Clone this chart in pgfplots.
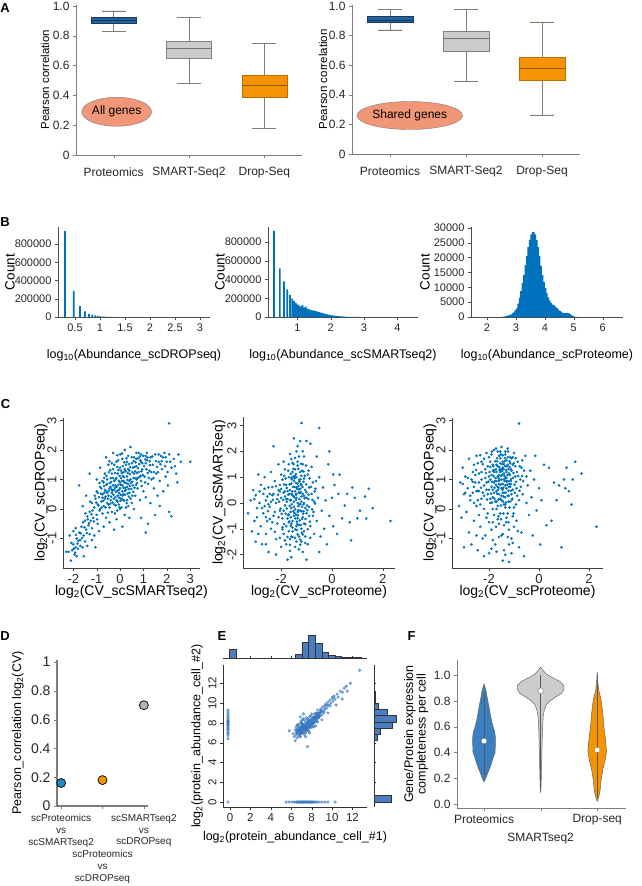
\documentclass[border=0pt]{standalone}
\usepackage{fontspec}
\setmainfont{Liberation Sans}
\usepackage{pgfplots}
\pgfplotsset{compat=1.18}
\usepgfplotslibrary{statistics}
\usetikzlibrary{shapes.geometric}

\definecolor{mblue}{RGB}{0,114,189}
\definecolor{pblue}{RGB}{34,98,158}
\definecolor{boxgray}{RGB}{204,204,204}
\definecolor{orng}{RGB}{245,148,0}
\definecolor{salmon}{RGB}{241,150,118}
\definecolor{axgray}{RGB}{125,125,125}
\definecolor{eblue}{RGB}{50,115,190}
\definecolor{hblue}{RGB}{76,125,190}
\definecolor{vblue}{RGB}{58,127,193}

\newcommand\fs[1]{\fontsize{#1}{#1}\selectfont}

\pgfplotsset{
  every axis/.append style={
    scale only axis, anchor=south west,
    axis lines*=left,
    axis line style={axgray},
    tick style={axgray},
    tick align=outside, major tick length=3pt,
    /pgf/number format/assume math mode=true,
    label style={font=\fs{12.5}},
    tick label style={font=\fs{12}, text=black!85},
  },
  ylab/.style={ylabel style={at={(axis description cs:#1,0.5)}, anchor=center}},
  xlab/.style={xlabel style={at={(axis description cs:0.5,#1)}, anchor=center}},
  bigcount/.style={scaled y ticks=false,
    yticklabel style={/pgf/number format/fixed, /pgf/number format/1000 sep={}}},
  scat/.style={only marks, mark=*, mark size=1.1pt, color=mblue},
  boxA/.style={
    xmin=0.5, xmax=3.5, ymin=0, ymax=1.01,
    xtick={1,2,3}, xticklabels={Proteomics,SMART-Seq2,Drop-Seq},
    xticklabel style={yshift=-6pt},
    ytick={0,0.2,0.4,0.6,0.8,1}, yticklabels={0,0.2,0.4,0.6,0.8,1.0},
    ylabel={Pearson correlation}, label style={font=\fs{11.5}},
    boxplot/draw direction=y,
    boxplot/every whisker/.style={draw=axgray},
  },
}

\begin{document}
\begin{tikzpicture}
\path[use as bounding box] (0,0) rectangle (641pt,-886pt);

% panel letters
\node[font=\bfseries\fs{13}] at (5pt,-8pt) {A};
\node[font=\bfseries\fs{13}] at (5pt,-222pt) {B};
\node[font=\bfseries\fs{13}] at (5.5pt,-404pt) {C};
\node[font=\bfseries\fs{13}] at (5pt,-636pt) {D};
\node[font=\bfseries\fs{13}] at (222pt,-636pt) {E};
\node[font=\bfseries\fs{13}] at (411.5pt,-636pt) {F};

% ---------------- A, all genes
\begin{axis}[at={(76pt,-155pt)}, width=226pt, height=150.5pt, boxA, ylab=-0.137]
\addplot[fill=pblue, draw=pblue!60!black, boxplot/every median/.style={draw=pblue!60!black},
  boxplot prepared={draw position=1, lower whisker=0.83, lower quartile=0.884,
  median=0.905, upper quartile=0.924, upper whisker=0.967, box extend=0.6, whisker extend=0.32}]
  coordinates {};
\addplot[fill=boxgray, draw=black!50, boxplot/every median/.style={draw=black!55},
  boxplot prepared={draw position=2, lower whisker=0.48, lower quartile=0.65,
  median=0.717, upper quartile=0.761, upper whisker=0.926, box extend=0.6, whisker extend=0.32}]
  coordinates {};
\addplot[fill=orng, draw=orng!75!black, boxplot/every median/.style={draw=orng!60!black},
  boxplot prepared={draw position=3, lower whisker=0.179, lower quartile=0.39,
  median=0.469, upper quartile=0.533, upper whisker=0.75, box extend=0.6, whisker extend=0.32}]
  coordinates {};
\node[ellipse, fill=salmon, draw=axgray, minimum width=68pt, minimum height=29pt,
  inner sep=0pt, font=\fs{12}] at (axis cs:1.04,0.29) {All genes};
\end{axis}

% ---------------- A, shared genes
\begin{axis}[at={(352pt,-154pt)}, width=228pt, height=149.5pt, boxA, ylab=-0.127]
\addplot[fill=pblue, draw=pblue!60!black, boxplot/every median/.style={draw=pblue!60!black},
  boxplot prepared={draw position=1, lower whisker=0.838, lower quartile=0.89,
  median=0.907, upper quartile=0.928, upper whisker=0.975, box extend=0.6, whisker extend=0.32}]
  coordinates {};
\addplot[fill=boxgray, draw=black!50, boxplot/every median/.style={draw=black!55},
  boxplot prepared={draw position=2, lower whisker=0.494, lower quartile=0.697,
  median=0.784, upper quartile=0.829, upper whisker=0.975, box extend=0.6, whisker extend=0.32}]
  coordinates {};
\addplot[fill=orng, draw=orng!75!black, boxplot/every median/.style={draw=orng!60!black},
  boxplot prepared={draw position=3, lower whisker=0.265, lower quartile=0.499,
  median=0.582, upper quartile=0.654, upper whisker=0.892, box extend=0.6, whisker extend=0.32}]
  coordinates {};
\node[ellipse, fill=salmon, draw=axgray, minimum width=89pt, minimum height=28pt,
  inner sep=0pt, font=\fs{12}] at (axis cs:1.26,0.26) {Shared genes};
\end{axis}

% ---------------- B, DROPseq abundance
\begin{axis}[at={(58pt,-317pt)}, width=152pt, height=90pt, bigcount,
  xmin=0.16, xmax=3.2, ymin=0, ymax=986000,
  xtick={0.5,1,1.5,2,2.5,3}, xticklabels={0.5,1,1.5,2,2.5,3},
  ytick={0,200000,400000,600000,800000},
  tick label style={font=\fs{11}},
  ylabel={Count}, ylab=-0.316, ylabel style={font=\fs{13.5}},
  xlabel={log\textsubscript{10}(Abundance\_scDROPseq)}, xlab=-0.42,
  axis line style={black!70}, tick style={black!70},
]
\addplot[ybar, bar width=0.035, fill=mblue, draw=none] coordinates {
  (0.301,942000) (0.477,285000) (0.602,120000) (0.699,62000) (0.778,35000)
  (0.845,25000) (0.903,18000) (0.954,12000) (1.0,8000) (1.041,5000)
  (1.079,3000) (1.114,2000) (1.146,1500) (1.176,1000) (1.204,700) (1.23,500) (1.255,300)};
\end{axis}

% ---------------- B, SMARTseq2 abundance
\begin{axis}[at={(268pt,-317pt)}, width=150pt, height=90pt, bigcount,
  xmin=0.12, xmax=4.62, ymin=0, ymax=960000,
  xtick={1,2,3,4}, ytick={0,200000,400000,600000,800000},
  tick label style={font=\fs{11}},
  ylabel={Count}, ylab=-0.32, ylabel style={font=\fs{13.5}},
  xlabel={log\textsubscript{10}(Abundance\_scSMARTseq2)}, xlab=-0.42,
  axis line style={black!70}, tick style={black!70},
]
\addplot[ybar, bar width=0.05, fill=mblue, draw=none] coordinates {
  (0.301,920000) (0.477,520000) (0.602,380000) (0.699,295000) (0.778,235000)
  (0.845,195000) (0.903,170000)};
\addplot[ybar interval, fill=mblue, draw=none] coordinates {
  (0.93,150000) (0.98,135000) (1.03,122000) (1.08,112000) (1.13,128000) (1.18,104000)
  (1.23,110000) (1.28,90000) (1.33,82000) (1.38,76000) (1.43,71000) (1.48,67000)
  (1.53,62000) (1.58,57000) (1.63,52000) (1.68,47000) (1.73,42000) (1.78,37000)
  (1.83,32000) (1.88,27000) (1.93,23000) (1.98,20000) (2.03,17000) (2.08,14000)
  (2.13,12000) (2.18,10000) (2.23,8500) (2.28,7000) (2.33,5500) (2.38,4500)
  (2.43,3500) (2.48,2500) (2.53,1800) (2.58,1200) (2.63,800) (2.68,500)
  (2.73,300) (2.78,200) (2.83,100) (2.88,0)};
\end{axis}

% ---------------- B, proteome abundance
\begin{axis}[at={(471pt,-317pt)}, width=152pt, height=90pt, bigcount,
  xmin=1.45, xmax=6.7, ymin=0, ymax=30300,
  xtick={2,3,4,5,6}, ytick={0,5000,10000,15000,20000,25000,30000},
  tick label style={font=\fs{11}},
  ylabel={Count}, ylab=-0.303, ylabel style={font=\fs{13.5}},
  xlabel={log\textsubscript{10}(Abundance\_scProteome)}, xlab=-0.42,
  axis line style={black!70}, tick style={black!70},
]
\addplot[ybar interval, fill=mblue, draw=none] coordinates {
  (2.50,50) (2.55,100) (2.60,200) (2.65,300) (2.70,450) (2.75,600) (2.80,800)
  (2.85,1200) (2.90,1600) (2.95,2200) (3.00,2900) (3.05,4500) (3.10,6500)
  (3.15,8700) (3.20,11500) (3.25,14200) (3.30,17500) (3.35,20500) (3.40,23500)
  (3.45,26000) (3.50,27800) (3.55,28700) (3.60,28600) (3.65,27800) (3.70,26000)
  (3.75,23500) (3.80,20500) (3.85,17200) (3.90,14200) (3.95,11800) (4.00,9700)
  (4.05,8000) (4.10,6600) (4.15,5500) (4.20,4700) (4.25,4200) (4.30,3900)
  (4.35,3500) (4.40,3000) (4.45,2500) (4.50,2100) (4.55,1700) (4.60,1400)
  (4.65,1300) (4.70,1350) (4.75,1400) (4.80,1300) (4.85,1000) (4.90,600)
  (4.95,300) (5.00,150) (5.05,80) (5.10,40) (5.15,20) (5.20,0)};
\end{axis}

% ---------------- C, SMART vs DROP
\begin{axis}[at={(63pt,-568pt)}, width=137pt, height=150.5pt,
  xmin=-2.44, xmax=3.42, ymin=-2, ymax=3.1,
  xtick={-2,-1,0,1,2,3}, ytick={-1,0,1,2,3},
  tick label style={font=\fs{13}}, yticklabel style={rotate=90, anchor=south},
  label style={font=\fs{14}}, axis line style={black!75}, tick style={black!75},
  ylabel={log\textsubscript{2}(CV\_scDROPseq)}, ylab=-0.16,
  xlabel={log\textsubscript{2}(CV\_scSMARTseq2)}, xlab=-0.16,
]
\addplot[scat] coordinates {
(-2.3,-1.45) (-2.2,-1.45) (-2.1,-1.75) (-2.05,-1.4) (-2.0,-1.2) (-1.95,-1.55) (-1.9,-1.3)
(-1.85,-1.0) (-1.8,-1.35) (-1.75,-0.8) (-1.7,-1.25) (-1.7,-1.05) (-1.65,-0.6) (-1.6,-1.3)
(-1.55,-0.9) (-1.5,-0.4) (-1.5,-1.1) (-1.45,-0.7) (-1.4,-0.25) (-1.4,-1.25) (-1.35,-0.55)
(-1.3,-0.85) (-1.3,-0.1) (-1.25,-0.4) (-1.2,0.2) (-1.2,-0.65) (-1.15,-0.3) (-1.1,0.05)
(-1.1,-0.9) (-1.05,0.35) (-1.0,-0.2) (-1.0,0.6) (-0.95,-0.5) (-0.95,0.15) (-1.9,-0.65)
(-2.15,-0.9) (-1.6,0.1) (-1.75,0.8) (-1.45,0.45) (-1.3,1.2) (-1.55,-1.6) (-1.2,-1.05)
(-0.9,-0.75) (-1.05,-1.3) (-1.85,-1.6) (-2.0,-0.75)
(-0.9,0.4) (-0.85,0.0) (-0.8,0.7) (-0.8,0.25) (-0.75,-0.15) (-0.75,0.5) (-0.7,0.9)
(-0.7,0.1) (-0.65,0.35) (-0.65,1.2) (-0.6,0.6) (-0.6,-0.3) (-0.55,0.2) (-0.55,0.85)
(-0.5,0.45) (-0.5,1.5) (-0.45,0.05) (-0.45,0.7) (-0.4,1.05) (-0.4,0.3) (-0.35,0.55)
(-0.35,-0.1) (-0.3,0.8) (-0.3,1.35) (-0.25,0.15) (-0.25,0.65) (-0.2,1.0) (-0.2,0.4)
(-0.15,1.6) (-0.15,0.75) (-0.1,0.25) (-0.1,1.2) (-0.05,0.55) (-0.05,0.95) (0.0,0.0)
(0.0,0.7) (0.0,1.4) (0.05,0.35) (0.05,1.05) (0.1,0.8) (0.1,1.7) (0.15,0.5) (0.15,1.25)
(0.2,0.9) (0.2,-0.2) (0.25,1.5) (0.25,0.65) (0.3,1.1) (0.3,0.3) (0.35,0.85) (0.35,1.8)
(0.4,1.3) (0.4,0.55) (0.45,1.0) (0.5,1.55) (0.5,0.2) (0.55,0.8) (0.6,1.2) (0.6,1.75)
(0.65,0.45) (0.7,1.0) (0.7,1.45) (0.75,0.7) (0.8,1.9) (0.8,1.25) (0.85,0.3) (0.9,1.6)
(0.9,0.95) (0.95,1.35) (1.0,0.6) (1.0,1.8) (-0.6,1.75) (-0.3,1.9) (0.0,1.85) (0.2,2.0)
(0.45,2.1) (-0.85,1.4) (-1.0,1.0) (-0.45,-0.45) (-0.15,-0.35) (0.1,-0.6) (0.4,-0.3)
(-0.7,-0.6) (0.6,0.0) (-0.25,-0.7) (0.25,0.05) (-0.05,0.15) (0.15,0.95) (-0.35,1.2)
(-0.55,1.0) (-0.1,0.45) (0.3,0.75) (0.05,1.3) (-0.2,0.8) (0.1,0.6) (-0.4,0.75) (0.4,0.95)
(-0.15,0.3) (0.2,1.35) (0.55,1.4) (-0.75,0.95) (-0.25,1.5) (0.7,1.7) (0.35,0.1)
(-0.65,0.65) (0.0,0.9) (-0.5,0.15)
(-0.62,0.42) (-0.48,0.62) (-0.38,0.92) (-0.28,0.48) (-0.18,0.58) (-0.08,0.82) (0.02,0.48)
(0.12,1.12) (0.22,0.72) (0.32,0.98) (0.42,1.18) (0.52,0.92) (0.62,1.42) (0.72,1.22)
(0.82,1.52) (0.92,1.28) (-0.72,0.28) (-0.82,0.52) (-0.92,0.12) (-1.02,0.22) (-0.58,1.12)
(-0.42,1.32) (-0.22,1.22) (-0.02,1.12) (0.18,1.58) (0.38,1.52) (0.58,1.62) (0.78,1.72)
(-0.12,1.42) (0.08,1.88) (0.28,1.72) (-0.32,0.22) (-0.52,-0.12) (-0.12,-0.05) (0.12,0.32)
(0.32,0.52) (0.48,0.68) (0.68,0.82) (0.88,1.12) (1.08,1.68) (1.18,1.22) (1.28,1.48)
(1.38,1.78) (1.58,1.42) (1.78,1.62) (-1.12,-0.42) (-1.22,-0.18) (-1.32,-0.48)
(-1.42,-0.82) (-1.52,-0.62) (-1.62,-0.98) (-1.82,-1.18) (-1.92,-1.48) (-0.68,0.78)
(-0.88,0.88) (-0.38,0.42) (-0.18,0.12) (0.02,0.28) (0.22,0.48) (0.42,0.78) (0.58,1.05)
(0.75,1.05) (0.95,1.55) (0.15,0.72) (-0.05,0.65) (-0.25,0.95) (0.35,1.35) (0.65,1.28)
(0.85,1.78) (1.15,1.65) (1.45,1.25) (1.65,1.85) (1.95,1.75) (2.15,1.6) (2.35,1.45)
(-0.95,0.55) (-0.85,0.75) (-0.78,0.05) (-0.68,0.55) (-0.58,0.82) (-0.52,0.35) (-0.44,0.88)
(-0.36,0.66) (-0.3,1.05) (-0.27,0.35) (-0.22,0.72) (-0.16,1.05) (-0.12,0.62) (-0.07,1.32)
(-0.03,0.38) (0.03,0.82) (0.07,1.22) (0.11,0.45) (0.17,1.08) (0.21,0.62) (0.24,1.28)
(0.27,0.88) (0.33,1.22) (0.37,0.68) (0.43,1.42) (0.47,0.88) (0.53,1.25) (0.57,0.58)
(0.63,1.05) (0.67,1.58) (0.73,0.88) (0.77,1.38) (0.83,1.08) (0.87,1.65) (0.93,0.78)
(0.97,1.15) (1.03,1.45) (1.07,0.9) (1.13,1.35) (1.17,1.75) (1.23,1.05) (1.27,1.62)
(1.33,1.25) (1.43,1.05) (1.53,1.62) (1.63,1.25) (1.73,1.52) (1.83,1.75) (1.93,1.45)
(2.03,1.25) (-1.08,0.45) (-1.18,-0.05) (-1.28,0.25) (-1.38,-0.35) (-1.48,-0.15)
(-1.58,-0.45) (-1.68,-0.82) (-1.78,-1.08) (-1.88,-0.88) (-1.98,-1.35) (-2.08,-1.15)
(-0.98,-0.35) (-0.88,-0.05) (-0.62,0.05) (-0.42,0.18) (-0.22,-0.15) (0.05,0.05) (0.28,0.2)
(0.52,0.45) (0.45,0.35) (-0.08,1.65) (0.12,1.45) (-0.35,1.55) (-0.48,1.25) (-0.68,1.05)
(0.3,1.6) (0.5,1.75) (0.7,1.9) (0.9,1.85) (1.1,1.8) (-0.12,1.82) (-0.45,1.62) (0.62,0.72)
(0.38,0.42) (-0.02,0.05) (-0.55,0.55) (-0.75,0.38) (-0.32,0.62) (0.08,0.95) (0.18,0.28)
(1.05,1.1) (1.1,1.55) (1.1,0.4) (1.15,1.9) (1.2,0.85) (1.25,1.3) (1.3,1.75) (1.3,0.2)
(1.35,1.0) (1.4,1.5) (1.45,0.7) (1.5,1.85) (1.55,1.2) (1.6,0.45) (1.65,1.6) (1.7,0.95)
(1.75,1.8) (1.8,1.35) (1.85,0.6) (1.9,1.9) (1.95,1.1) (2.0,1.6) (2.05,0.8) (2.1,1.85)
(2.2,1.4) (2.3,1.7) (2.4,1.2) (2.5,1.85) (2.6,1.6) (3.0,1.6) (2.1,2.9) (2.1,-0.1)
(2.2,-0.25) (1.1,-0.8) (1.5,-0.2) (0.9,-0.3) (1.7,0.1) (1.2,-0.5) (2.45,0.9)};
\end{axis}

% ---------------- C, Proteome vs SMART
\begin{axis}[at={(243pt,-568pt)}, width=152pt, height=151pt,
  xmin=-3.5, xmax=2.48, ymin=-2.52, ymax=3.33,
  xtick={-2,0,2}, ytick={-2,-1,0,1,2,3},
  tick label style={font=\fs{13}}, yticklabel style={rotate=90, anchor=south},
  label style={font=\fs{14}}, axis line style={black!75}, tick style={black!75},
  ylabel={log\textsubscript{2}(CV\_scSMARTseq)}, ylab=-0.158,
  xlabel={log\textsubscript{2}(CV\_scProteome)}, xlab=-0.16,
]
\addplot[scat] coordinates {
(-3.3,-0.4) (-3.2,0.1) (-3.15,-1.1) (-3.1,0.5) (-3.05,-0.7) (-3.0,-1.5) (-3.0,0.3)
(-2.95,-0.2) (-2.9,1.1) (-2.9,-1.2) (-2.85,0.0) (-2.8,-0.9) (-2.8,0.7) (-2.75,-1.6)
(-2.7,0.35) (-2.7,-0.4) (-2.65,1.0) (-2.6,-1.2) (-2.6,0.1) (-2.55,-0.7) (-2.5,0.6)
(-2.5,-1.9) (-2.45,-0.15) (-2.4,1.2) (-2.4,-1.0) (-2.35,0.3) (-2.3,-0.5) (-2.3,2.2)
(-2.25,0.85) (-2.2,-1.4) (-2.2,0.0) (-2.15,-0.8) (-2.1,0.5) (-2.1,1.5) (-2.05,-0.3)
(-2.0,-1.7) (-2.0,0.2) (-1.95,0.9) (-1.95,-0.6) (-1.9,-1.2) (-1.9,0.4) (-1.85,1.3)
(-1.85,-0.1) (-1.8,-0.9) (-1.8,0.7) (-1.75,-2.2) (-1.75,0.15) (-1.7,-0.45) (-1.7,1.0)
(-1.65,-1.4) (-1.65,0.5) (-1.6,-0.2) (-1.6,1.7) (-1.6,-0.8) (-1.55,0.3) (-1.55,-1.1)
(-1.5,0.85) (-1.5,-0.5) (-1.5,0.05) (-1.45,1.3) (-1.45,-1.7) (-1.45,-0.25) (-1.4,0.6)
(-1.4,-0.9) (-1.4,0.2) (-1.35,1.6) (-1.35,-0.6) (-1.35,0.0) (-1.3,0.9) (-1.3,-1.3)
(-1.3,0.4) (-1.25,-0.3) (-1.25,1.2) (-1.25,-0.05) (-1.2,3.1) (-1.2,0.7) (-1.2,-1.0)
(-1.2,0.25) (-1.15,-0.55) (-1.15,1.5) (-1.15,-1.9) (-1.1,0.0) (-1.1,0.95) (-1.1,-0.8)
(-1.05,0.5) (-1.05,-1.3) (-1.0,2.4) (-1.0,0.2) (-1.0,-0.4) (-0.95,1.1) (-0.95,-1.6)
(-0.9,0.6) (-0.9,-0.15) (-0.85,2.3) (-0.85,-0.9) (-0.8,0.35) (-0.8,1.4) (-0.75,-0.5)
(-0.75,0.8) (-0.7,-1.2) (-0.7,0.05) (-0.65,0.55) (-0.6,1.8) (-0.6,-0.7) (-0.55,0.2)
(-0.5,-1.9) (-0.5,1.0) (-1.4,2.0) (-1.55,1.2) (-1.7,1.5) (-1.3,1.8) (-1.9,1.6)
(-2.0,1.1) (-1.5,2.5) (-1.25,2.4) (-1.1,1.8) (-2.2,-2.0) (-1.6,-2.1) (-1.3,-1.8)
(-1.0,-2.2) (-1.8,-1.6) (-2.6,-1.6) (-1.4,-1.5) (-1.2,-1.5) (-1.6,0.75) (-1.45,0.45)
(-1.35,-0.35) (-1.55,-0.7) (-1.75,-0.6) (-1.65,0.1) (-1.25,0.55) (-1.15,0.35)
(-1.05,-0.2) (-1.5,1.5) (-1.3,-0.85) (-1.85,0.45) (-2.05,0.7) (-1.4,1.0) (-1.2,1.05)
(-1.6,-1.3) (-1.7,-1.1) (-1.1,-1.1) (-0.9,-0.5)
(-1.62,0.12) (-1.52,-0.32) (-1.42,0.32) (-1.32,-0.12) (-1.22,0.42) (-1.12,-0.32)
(-1.72,0.32) (-1.82,-0.42) (-1.92,0.12) (-2.02,-0.22) (-1.48,0.62) (-1.38,-0.72)
(-1.28,0.82) (-1.18,-0.62) (-1.58,0.92) (-1.68,-0.72) (-1.78,0.58) (-1.88,-0.82)
(-2.12,0.32) (-2.32,0.12) (-2.52,-0.32) (-1.42,1.12) (-1.32,1.32) (-1.22,1.52)
(-1.52,1.32) (-1.62,1.12) (-1.12,1.22) (-1.02,0.72) (-0.92,0.32) (-1.45,-1.02)
(-1.35,-1.22) (-1.25,-1.42) (-1.55,-1.32) (-1.65,-1.62) (-1.15,-1.22) (-1.05,-0.82)
(-0.95,-1.02) (-1.75,-1.32) (-1.95,-1.02) (-2.25,-1.12) (-2.45,-0.62) (-2.65,-0.12)
(-2.35,0.62) (-1.58,-0.05) (-1.48,0.22) (-1.38,0.55) (-1.28,0.15) (-1.18,-0.15)
(-1.68,0.35) (-1.78,0.05) (-1.88,0.72) (-1.98,-0.42) (-2.08,0.05) (-1.42,-0.45)
(-1.32,0.65) (-1.52,1.02) (-1.22,-0.85) (-1.62,-0.55) (-1.08,0.18) (-0.98,-0.1)
(-0.88,0.95) (-0.78,-0.25) (-0.68,0.45) (-1.35,2.2) (-1.15,2.0) (-1.45,1.75) (-1.65,1.9)
(-1.9,-0.3) (-1.85,0.25) (-1.82,0.95) (-1.78,-0.22) (-1.74,0.45) (-1.7,-0.75) (-1.67,0.72)
(-1.63,-0.35) (-1.59,0.35) (-1.56,-0.95) (-1.53,0.62) (-1.5,-0.15) (-1.47,0.95)
(-1.44,-0.6) (-1.41,0.12) (-1.38,-1.05) (-1.36,0.75) (-1.33,-0.28) (-1.3,0.52)
(-1.27,-0.68) (-1.24,0.92) (-1.21,0.05) (-1.18,-1.15) (-1.16,0.62) (-1.13,-0.42)
(-1.1,0.28) (-1.07,1.05) (-1.04,-0.62) (-1.01,0.42) (-0.97,-0.28) (-0.93,0.15)
(-0.87,-0.72) (-0.83,0.62) (-0.77,0.12) (-0.73,-0.35) (-0.67,-0.02) (-0.63,0.85)
(-2.05,0.45) (-2.1,-0.55) (-2.15,0.15) (-2.2,0.65) (-2.25,-0.35) (-2.3,0.35) (-2.35,-0.75)
(-2.4,0.05) (-2.45,0.35) (-2.5,-0.05) (-2.55,0.25) (-2.6,-0.55) (-2.65,0.55) (-2.75,-0.2)
(-2.85,0.45) (-2.95,-0.55) (-3.05,0.15) (-1.95,-0.95) (-2.0,0.55) (-1.88,1.05)
(-1.72,1.25) (-1.55,1.55) (-1.35,1.45) (-1.18,1.25) (-1.02,1.45) (-0.92,1.25)
(-1.65,-1.85) (-1.45,-1.35) (-1.25,-1.62) (-1.05,-1.55) (-1.85,-1.45) (-2.05,-1.35)
(-0.85,-1.35) (-1.6,0.98) (-1.42,0.78) (-1.26,0.38) (-1.12,-0.05) (-1.48,-0.38)
(-1.66,-0.12) (-1.8,0.15) (-1.34,-0.48) (-1.2,-0.32) (-1.56,0.45) (-1.72,-0.48)
(-1.4,0.35) (-1.3,-0.05) (-1.5,0.25) (-1.62,-0.88) (-1.36,-0.82) (-1.22,0.72)
(-1.46,1.05) (-1.12,0.82)
(-0.4,-0.3) (-0.35,0.6) (-0.3,-1.0) (-0.25,0.1) (-0.2,-1.6) (-0.15,1.5) (-0.1,2.0)
(-0.1,-0.5) (0.0,0.2) (0.05,-0.9) (0.1,0.7) (0.2,-1.2) (0.3,1.1) (0.5,-0.1) (0.6,0.35)
(0.7,-0.75) (0.75,-1.45) (0.8,0.6) (0.9,0.2) (1.0,-0.6) (1.1,-0.3) (1.3,0.25)
(1.35,-0.6) (1.45,0.55) (1.6,-0.2) (0.4,-0.6) (-0.5,2.9) (0.05,1.1) (2.3,-0.7)
(-0.45,-1.3) (0.25,0.35)};
\end{axis}

% ---------------- C, Proteome vs DROP
\begin{axis}[at={(452pt,-568pt)}, width=151pt, height=150.5pt,
  xmin=-3.48, xmax=2.56, ymin=-2, ymax=3.1,
  xtick={-2,0,2}, ytick={-1,0,1,2,3},
  tick label style={font=\fs{13}}, yticklabel style={rotate=90, anchor=south},
  label style={font=\fs{14}}, axis line style={black!75}, tick style={black!75},
  ylabel={log\textsubscript{2}(CV\_scDROPseq)}, ylab=-0.146,
  xlabel={log\textsubscript{2}(CV\_scProteome)}, xlab=-0.16,
]
\addplot[scat] coordinates {
(-3.2,0.1) (-3.15,0.9) (-3.1,-0.3) (-3.05,1.4) (-3.0,0.5) (-3.0,-1.3) (-2.95,1.1)
(-2.9,-0.1) (-2.85,0.7) (-2.8,1.7) (-2.8,-0.8) (-2.75,0.3) (-2.7,1.0) (-2.7,-1.2)
(-2.65,0.55) (-2.6,1.5) (-2.6,-0.4) (-2.55,0.9) (-2.5,0.1) (-2.5,1.8) (-2.45,-1.4)
(-2.4,0.6) (-2.4,1.2) (-2.35,-0.6) (-2.3,0.35) (-2.3,1.6) (-2.25,-1.0) (-2.2,0.8)
(-2.2,0.0) (-2.15,1.35) (-2.1,-0.3) (-2.1,1.9) (-2.05,0.5) (-2.0,1.1) (-2.0,-1.5)
(-1.95,0.2) (-1.95,1.6) (-1.9,0.75) (-1.9,-0.7) (-1.85,1.3) (-1.85,0.4) (-1.8,2.0)
(-1.8,-0.2) (-1.75,0.95) (-1.75,-1.2) (-1.7,0.6) (-1.7,1.5) (-1.65,0.1) (-1.65,1.1)
(-1.6,1.8) (-1.6,-0.5) (-1.6,0.85) (-1.55,0.35) (-1.55,1.35) (-1.5,1.0) (-1.5,-0.9)
(-1.5,2.1) (-1.45,0.55) (-1.45,1.6) (-1.4,0.15) (-1.4,1.2) (-1.4,-1.4) (-1.35,0.8)
(-1.35,1.85) (-1.3,-0.3) (-1.3,1.05) (-1.25,0.45) (-1.25,1.5) (-1.2,-0.7) (-1.2,0.95)
(-1.15,1.75) (-1.15,0.25) (-1.1,1.3) (-1.1,-1.0) (-1.05,0.65) (-1.0,1.9) (-1.0,0.05)
(-0.95,1.1) (-0.9,-0.4) (-0.9,0.7) (-0.85,1.6) (-0.8,-1.3) (-0.8,0.3) (-0.75,1.0)
(-0.7,-0.8) (-0.7,1.4) (-0.65,0.5) (-0.6,-1.6) (-0.55,1.8) (-0.5,0.2) (-1.55,1.95)
(-1.9,1.85) (-1.25,2.05) (-1.7,1.25) (-1.6,0.5) (-1.45,0.85) (-1.35,0.4) (-1.2,1.2)
(-1.8,0.9) (-2.0,0.65) (-1.5,0.7) (-1.65,1.45) (-1.3,1.65) (-1.75,0.25) (-1.55,-0.15)
(-1.4,-0.55) (-1.6,-0.95) (-1.85,-1.05) (-1.2,-1.2) (-1.35,-1.55) (-1.7,-1.45)
(-2.2,-1.6) (-1.9,-1.35) (-1.1,-1.5) (-1.0,-0.6) (-1.45,1.4) (-1.85,1.5) (-1.15,0.75)
(-1.95,1.0) (-1.35,0.05) (-1.25,-0.15) (-1.05,-0.25) (-2.1,0.9) (-2.3,1.0) (-2.45,0.3)
(-2.6,0.2) (-2.0,-0.45) (-1.5,0.3) (-1.7,0.0) (-1.6,1.15) (-1.4,1.0) (-1.3,0.7)
(-1.8,0.55) (-1.1,0.5) (-1.05,1.5) (-2.4,-0.2) (-2.15,-0.9) (-2.5,-0.9) (-1.45,-1.75)
(-1.2,-1.8)
(-1.62,0.72) (-1.52,1.12) (-1.42,0.72) (-1.32,1.32) (-1.22,0.62) (-1.12,1.02)
(-1.72,0.82) (-1.82,1.12) (-1.92,0.52) (-2.02,0.92) (-1.48,1.52) (-1.38,1.62)
(-1.28,0.92) (-1.18,1.42) (-1.58,1.32) (-1.68,1.72) (-1.78,1.32) (-1.88,0.92)
(-2.12,1.22) (-2.32,0.72) (-2.52,1.32) (-1.42,0.42) (-1.32,0.22) (-1.22,0.25)
(-1.52,0.12) (-1.62,0.32) (-1.12,0.62) (-1.02,1.22) (-0.92,0.92) (-1.45,1.82)
(-1.35,1.95) (-1.25,1.75) (-1.55,1.72) (-1.65,1.95) (-1.15,1.55) (-1.05,1.75)
(-0.95,1.45) (-1.75,1.62) (-1.95,1.42) (-2.25,1.52) (-2.45,0.62) (-2.65,0.92)
(-2.35,1.82) (-1.58,0.98) (-1.48,1.28) (-1.38,1.12) (-1.28,1.45) (-1.18,0.85)
(-1.68,0.52) (-1.78,0.72) (-1.88,0.22) (-1.98,1.25) (-2.08,0.32) (-1.42,-0.15)
(-1.32,-0.45) (-1.52,-0.35) (-1.22,-0.45) (-1.62,-0.25) (-1.08,0.32) (-0.98,0.82)
(-0.88,1.25) (-0.78,0.62) (-0.68,1.12) (-1.72,-0.6) (-1.85,0.0) (-2.2,0.45)
(-1.9,1.15) (-1.85,0.65) (-1.82,1.45) (-1.78,0.35) (-1.74,1.05) (-1.7,0.25) (-1.67,1.62)
(-1.63,0.65) (-1.59,1.42) (-1.56,0.82) (-1.53,1.85) (-1.5,0.45) (-1.47,1.15) (-1.44,0.25)
(-1.41,1.52) (-1.38,0.95) (-1.36,1.72) (-1.33,0.55) (-1.3,1.25) (-1.27,0.82) (-1.24,1.95)
(-1.21,0.45) (-1.18,1.62) (-1.16,1.15) (-1.13,0.85) (-1.1,1.72) (-1.07,0.35) (-1.04,1.05)
(-1.01,1.55) (-0.97,0.55) (-0.93,1.72) (-0.87,0.45) (-0.83,1.12) (-0.77,1.45) (-0.73,0.75)
(-0.67,1.65) (-0.63,0.95) (-2.05,1.45) (-2.1,0.65) (-2.15,1.05) (-2.2,1.7) (-2.25,0.55)
(-2.3,1.25) (-2.35,0.15) (-2.4,0.9) (-2.45,1.55) (-2.5,0.6) (-2.55,1.15) (-2.6,0.75)
(-2.65,1.25) (-2.75,0.45) (-2.85,1.05) (-2.95,0.55) (-3.05,0.85) (-1.95,0.35) (-2.0,1.75)
(-1.88,1.95) (-1.72,2.05) (-1.55,1.55) (-1.35,0.15) (-1.18,0.05) (-1.02,-0.15)
(-0.92,0.15) (-1.65,-0.35) (-1.45,-0.85) (-1.25,-0.95) (-1.05,-1.15) (-1.85,-0.45)
(-2.05,-0.15) (-0.85,-0.75) (-1.6,0.95) (-1.42,1.35) (-1.26,1.15) (-1.12,1.35)
(-1.48,0.85) (-1.66,0.75) (-1.8,1.25) (-1.34,1.05) (-1.2,0.75) (-1.56,1.25) (-1.72,1.35)
(-1.4,0.55) (-1.3,0.95) (-1.5,1.35) (-1.62,1.05) (-1.36,1.45) (-1.22,1.35) (-1.46,0.65)
(-1.12,0.95) (-1.7,0.95)
(-0.45,0.8) (-0.4,-0.2) (-0.35,1.3) (-0.3,0.4) (-0.25,-0.9) (-0.2,1.0) (-0.1,-0.05)
(0.0,0.7) (0.05,-1.2) (0.1,0.3) (0.2,1.5) (-0.5,1.1) (-0.15,1.8) (-0.6,1.3) (0.4,1.4)
(0.5,-0.4) (0.6,0.9) (0.7,0.3) (0.8,0.8) (1.0,1.0) (1.05,0.7) (1.2,0.6) (1.3,0.15)
(1.35,1.0) (1.45,1.6) (1.7,1.2) (1.1,1.4) (2.3,-0.6) (-0.8,2.9) (0.9,-1.3) (0.3,-0.55)};
\end{axis}

% ---------------- D
\begin{axis}[at={(57pt,-806pt)}, width=91pt, height=146pt,
  xmin=-0.1, xmax=2.1, ymin=0, ymax=1.014,
  ytick={0,0.2,0.4,0.6,0.8,1}, yticklabels={0,0.2,0.4,0.6,0.8,1},
  yticklabel style={font=\fs{14}},
  xtick={0,2}, xticklabels={{scProteomics\\vs\\scSMARTseq2},{scSMARTseq2\\vs\\scDROPseq}},
  extra x ticks={1}, extra x tick labels={{scProteomics\\vs\\scDROPseq}},
  xticklabel style={font=\fontsize{10}{11.7}\selectfont, align=center, yshift=-2pt},
  extra x tick style={xticklabel style={yshift=-36pt}},
  axis line style={axgray, line width=1.2pt},
  ylabel={Pearson\_correlation log\textsubscript{2}(CV)}, ylab=-0.43,
]
\addplot[only marks, mark=*, mark size=4.5pt, mark options={fill=mblue!85!white, draw=black, line width=0.7pt}]
  coordinates {(0,0.16)};
\addplot[only marks, mark=*, mark size=4.5pt, mark options={fill=orng, draw=black, line width=0.7pt}]
  coordinates {(1,0.18)};
\addplot[only marks, mark=*, mark size=4.5pt, mark options={fill=black!30, draw=black, line width=0.7pt}]
  coordinates {(2,0.70)};
\end{axis}

% ---------------- E, main scatter
\begin{axis}[at={(223pt,-807pt)}, width=144pt, height=142pt,
  xmin=-0.69, xmax=13.43, ymin=-0.5, ymax=13.84,
  xtick={0,2,4,6,8,10,12}, ytick={0,2,4,6,8,10,12},
  tick label style={font=\fs{11.5}}, yticklabel style={rotate=90, anchor=south},
  axis line style={black!80}, tick style={black!80},
  xlabel={log\textsubscript{2}(protein\_abundance\_cell\_\#1)}, xlab=-0.211,
  ylabel={log\textsubscript{2}(protein\_abundance\_cell\_\#2)}, ylab=-0.18,
]
\addplot[only marks, mark=*, mark size=1.4pt,
  mark options={fill=eblue, draw=eblue, fill opacity=0.55, draw opacity=0.7}] coordinates {
(6.2,6.9) (6.3,6.6) (6.4,7.3) (6.5,6.8) (6.5,7.6) (6.6,7.1) (6.6,6.5) (6.7,7.8) (6.7,7.0)
(6.8,7.4) (6.8,6.7) (6.9,8.0) (6.9,7.2) (7.0,7.6) (7.0,6.9) (7.0,8.2) (7.1,7.3) (7.1,7.9)
(7.2,7.0) (7.2,7.6) (7.2,8.4) (7.3,7.3) (7.3,7.9) (7.3,6.8) (7.4,7.6) (7.4,8.2) (7.5,7.2)
(7.5,7.8) (7.5,8.5) (7.6,7.5) (7.6,8.0) (7.6,5.6) (7.7,7.7) (7.7,8.3) (7.7,7.2) (7.8,7.9)
(7.8,8.6) (7.9,7.5) (7.9,8.1) (8.0,8.4) (8.0,7.8) (8.0,8.9) (8.1,8.1) (8.1,7.6) (8.2,8.6)
(8.2,8.0) (8.3,8.3) (8.3,8.9) (8.4,8.1) (8.4,8.6) (8.5,9.0) (8.5,8.4) (8.6,8.7) (8.6,9.3)
(8.7,8.5) (8.8,9.0) (8.8,8.7) (8.9,9.4) (9.0,9.1) (9.0,8.8) (9.1,9.6) (9.2,9.2) (9.3,9.7)
(9.3,9.4) (9.4,9.9) (9.5,9.5) (9.6,10.1) (9.7,9.8) (9.8,10.3) (9.9,10.0) (10.0,10.5)
(10.1,10.2) (10.2,10.7) (10.3,10.4) (10.5,10.9) (10.6,10.6) (10.8,11.2) (11.0,11.1)
(11.2,11.5) (11.4,11.7) (11.0,10.4) (10.4,9.8) (9.6,9.0) (9.0,8.3) (11.5,11.2) (12.7,13.3)
(11.8,12.0) (5.8,7.2) (6.4,6.2) (7.8,7.0) (8.4,7.7) (7.2,8.9) (6.9,8.6) (7.0,7.3) (7.4,7.0)
(7.6,7.7) (7.3,7.6) (7.9,7.8) (7.5,7.5) (7.1,7.6) (7.8,8.2) (8.1,8.4) (8.3,8.6) (6.8,7.6)
(6.6,7.4) (7.0,7.95) (7.65,8.05) (7.35,7.45) (6.9,7.5) (7.2,7.3) (7.45,7.85) (7.75,8.15)
(8.05,8.25) (8.25,8.45) (8.55,8.75) (8.75,8.95) (6.75,7.25) (7.05,7.1) (7.55,7.35)
(7.85,7.65) (8.15,7.9) (6.95,6.95) (7.25,7.75) (7.65,8.35) (8.45,8.95) (8.95,9.25)
(6.55,6.95) (6.65,7.25) (6.75,6.85) (6.85,7.15) (6.95,7.45) (7.05,7.75) (7.15,7.05)
(7.25,7.45) (7.35,7.15) (7.45,7.65) (7.55,7.95) (7.65,7.25) (7.75,7.55) (7.85,7.85)
(7.95,8.25) (8.05,7.95) (8.15,8.55) (8.25,8.15) (8.35,8.45) (8.45,8.25) (8.55,8.55)
(8.65,8.95) (8.75,8.65) (8.85,9.15) (6.6,7.8) (6.9,6.6) (7.4,6.6) (7.1,8.3) (7.9,8.7)
(8.2,7.6) (8.6,8.1) (6.5,7.1) (7.0,7.0) (7.5,7.4) (8.0,8.0) (8.5,8.6) (9.2,9.0) (9.5,9.8)
(9.8,9.7) (10.1,10.6)
(-0.2,6.4) (-0.2,6.7) (-0.2,6.9) (-0.2,7.0) (-0.2,7.2) (-0.2,7.3) (-0.2,7.45) (-0.2,7.55)
(-0.2,7.7) (-0.2,7.8) (-0.2,7.9) (-0.2,8.0) (-0.2,8.1) (-0.2,8.2) (-0.2,8.3) (-0.2,8.5)
(-0.2,8.7) (-0.2,8.9) (-0.2,9.1) (-0.2,9.3) (-0.2,0)
(5.5,0) (5.8,0) (6.1,0) (6.3,0) (6.5,0) (6.6,0) (6.7,0) (6.8,0) (6.9,0) (7.0,0) (7.1,0)
(7.2,0) (7.3,0) (7.4,0) (7.5,0) (7.6,0) (7.7,0) (7.8,0) (7.9,0) (8.0,0) (8.1,0) (8.2,0)
(8.35,0) (8.5,0) (8.7,0) (9.0,0) (9.3,0) (9.6,0) (10.3,0)};
\end{axis}

% ---------------- E, top marginal
\begin{axis}[at={(223pt,-658pt)}, width=144pt, height=25pt,
  xmin=-0.69, xmax=13.43, ymin=0, ymax=25,
  axis x line*=bottom, axis y line=none,
  xtick={0,2,4,6,8,10,12}, xticklabels={}, tick align=inside, major tick length=2pt,
  axis line style={black!80}, tick style={black!80},
]
\addplot[ybar interval, fill=hblue, draw=black!80, line width=0.5pt]
  coordinates {(-0.07,8.3) (0.6,8.3)};
\addplot[ybar interval, fill=hblue, draw=black!80, line width=0.5pt] coordinates {
  (6.4,4) (7.05,15.7) (7.7,22.7) (8.35,15) (9.0,6) (9.65,3) (10.3,1.7) (10.95,1)
  (11.6,0.5) (12.25,0.3) (12.9,0.3)};
\end{axis}

% ---------------- E, right marginal
\begin{axis}[at={(374pt,-807pt)}, width=25pt, height=142pt,
  ymin=-0.5, ymax=13.84, xmin=0, xmax=25,
  axis y line*=left, axis x line=none,
  ytick={0,2,4,6,8,10,12}, yticklabels={}, tick align=inside, major tick length=2pt,
  axis line style={black!80}, tick style={black!80},
]
\addplot[xbar interval, fill=hblue, draw=black!80, line width=0.5pt]
  coordinates {(17.7,-0.05) (17.7,0.65)};
\addplot[xbar interval, fill=hblue, draw=black!80, line width=0.5pt] coordinates {
  (3,6.24) (6,6.86) (18.7,7.48) (22,8.1) (13,8.72) (4,9.34) (1.5,9.96) (0.8,10.58)
  (0.4,11.2) (0.2,11.82) (0.2,12.44)};
\end{axis}

% ---------------- F, violins
\begin{axis}[at={(457pt,-808pt)}, width=168.5pt, height=148pt,
  xmin=-0.478, xmax=2.5, ymin=-0.031, ymax=1.119,
  xtick={0,2}, xticklabels={Proteomics,Drop-seq},
  extra x ticks={1}, extra x tick labels={SMARTseq2},
  extra x tick style={xticklabel style={yshift=-19pt}},
  ytick={0,0.2,0.4,0.6,0.8,1},
  yticklabel style={/pgf/number format/fixed, /pgf/number format/fixed zerofill,
    /pgf/number format/precision=1},
  ylabel={Gene/Protein expression\\completeness per cell}, ylab=-0.243,
  ylabel style={align=center},
]
\addplot[fill=vblue, draw=black!60, line width=0.5pt] coordinates {
  (0,0.17) (0.04,0.21) (0.06,0.235) (0.088,0.265) (0.12,0.30) (0.147,0.34) (0.17,0.37)
  (0.195,0.40) (0.2,0.46) (0.2,0.52) (0.19,0.56) (0.16,0.60) (0.13,0.65) (0.11,0.70)
  (0.088,0.755) (0.059,0.82) (0.035,0.88) (0,0.935)
  (-0.035,0.88) (-0.059,0.82) (-0.088,0.755) (-0.11,0.70) (-0.13,0.65) (-0.16,0.60)
  (-0.19,0.56) (-0.2,0.52) (-0.2,0.46) (-0.195,0.40) (-0.17,0.37) (-0.147,0.34)
  (-0.12,0.30) (-0.088,0.265) (-0.06,0.235) (-0.04,0.21) (0,0.17)};
\addplot[fill=boxgray, draw=black!60, line width=0.5pt] coordinates {
  (1,0.085) (1.006,0.12) (1.012,0.2) (1.017,0.3) (1.022,0.4) (1.028,0.5) (1.035,0.6)
  (1.045,0.68) (1.065,0.73) (1.1,0.77) (1.16,0.80) (1.26,0.83) (1.37,0.86) (1.41,0.89)
  (1.41,0.92) (1.35,0.95) (1.22,0.98) (1.1,1.01) (1.04,1.04) (1,1.064)
  (0.96,1.04) (0.9,1.01) (0.78,0.98) (0.65,0.95) (0.59,0.92) (0.59,0.89) (0.63,0.86)
  (0.74,0.83) (0.84,0.80) (0.9,0.77) (0.935,0.73) (0.955,0.68) (0.965,0.6) (0.972,0.5)
  (0.978,0.4) (0.983,0.3) (0.988,0.2) (0.994,0.12) (1,0.085)};
\addplot[fill=orng, draw=black!60, line width=0.5pt] coordinates {
  (2,0.02) (2.03,0.06) (2.053,0.11) (2.07,0.19) (2.1,0.27) (2.14,0.34) (2.165,0.41)
  (2.147,0.50) (2.118,0.60) (2.1,0.70) (2.07,0.81) (2.03,0.88) (2.012,0.935) (2,1.026)
  (1.988,0.935) (1.97,0.88) (1.93,0.81) (1.9,0.70) (1.882,0.60) (1.853,0.50)
  (1.835,0.41) (1.86,0.34) (1.9,0.27) (1.93,0.19) (1.947,0.11) (1.97,0.06) (2,0.02)};
\addplot[black!65, line width=0.8pt] coordinates {(0,0.22) (0,0.87)};
\addplot[black!65, line width=0.8pt] coordinates {(1,0.10) (1,1.0)};
\addplot[black!65, line width=0.8pt] coordinates {(2,0.05) (2,1.0)};
\addplot[only marks, mark=*, mark size=2.8pt, mark options={fill=white, draw=black!50, line width=0.4pt}]
  coordinates {(0,0.49) (1,0.88) (2,0.42)};
\end{axis}
\end{tikzpicture}
\end{document}
